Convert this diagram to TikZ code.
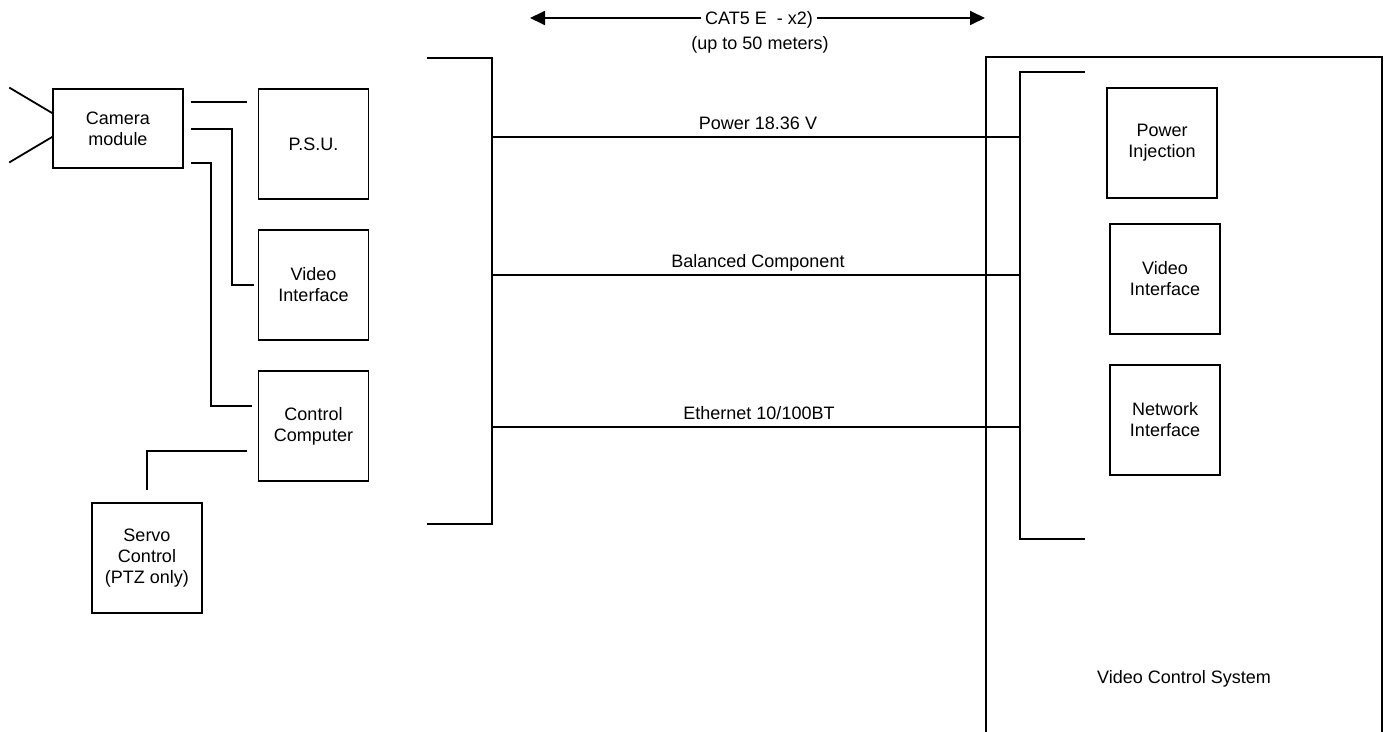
\documentclass[tikz,border=0pt]{standalone}
\usepackage{fontspec}
\setmainfont{Liberation Sans}
\usetikzlibrary{arrows.meta}
\begin{document}
\begin{tikzpicture}[x=1pt,y=-1pt,
  line width=1.8pt, line cap=rect,
  blk/.style={draw, line width=1.8pt, align=center, inner sep=2pt,
    font=\fontsize{18}{21}\selectfont},
  lbl/.style={font=\fontsize{18}{21}\selectfont, inner sep=3pt},
  tip/.style={-{Triangle[length=15pt,width=14pt]}}]
\useasboundingbox (0,0) rectangle (1387,731);
% left side blocks
\node[blk, minimum width=130pt, minimum height=79pt] (cam) at (118,128.5) {Camera\\module};
\node[blk, minimum width=110pt, minimum height=110pt] (psu) at (313.5,144) {P.S.U.};
\node[blk, minimum width=110pt, minimum height=110pt] (vil) at (313.5,285) {Video\\Interface};
\node[blk, minimum width=110pt, minimum height=110pt] (ctrl) at (313.5,426) {Control\\Computer};
\node[blk, minimum width=110pt, minimum height=110pt] (servo) at (147,558) {Servo\\Control\\(PTZ only)};
% lens
\coordinate (lensA) at (10,88);
\coordinate (lensB) at (10,162);
\draw (lensA) -- (cam.west|-0,113);
\draw (lensB) -- (cam.west|-0,137);
% camera connections
\draw[shorten <=8pt, shorten >=12pt] (cam.east|-0,102) -- (psu.west|-0,102);
\draw[shorten <=8pt, shorten >=5pt] (cam.east|-0,129) -- (232,129) |- (vil.west|-0,285);
\draw[shorten <=8pt, shorten >=7pt] (cam.east|-0,163) -- (211,163) |- (ctrl.west|-0,406);
\draw[shorten <=12pt, shorten >=13pt] (ctrl.west|-0,451) -| (servo.north);
% left bracket
\coordinate (lbT) at (428,58);
\coordinate (lbTc) at (492,58);
\coordinate (lbBc) at (492,524);
\coordinate (lbB) at (428,524);
\draw (lbT) -- (lbTc) -- (lbBc) -- (lbB);
% right system box
\coordinate (sysBL) at (986,735);
\coordinate (sysTL) at (986,57);
\coordinate (sysTR) at (1382,57);
\coordinate (sysBR) at (1382,735);
\draw (sysBL) -- (sysTL) -- (sysTR) -- (sysBR);
% right bracket
\coordinate (rbT) at (1084,72);
\coordinate (rbTc) at (1020,72);
\coordinate (rbBc) at (1020,539);
\coordinate (rbB) at (1084,539);
\draw (rbT) -- (rbTc) -- (rbBc) -- (rbB);
% cables
\draw (lbTc|-0,137) -- (rbTc|-0,137);
\draw (lbTc|-0,275) -- (rbTc|-0,275);
\draw (lbTc|-0,427) -- (rbTc|-0,427);
\node[lbl, anchor=base] (pw) at (758,129) {Power 18.36 V};
\node[lbl, anchor=base] (bc) at (758,267) {Balanced Component};
\node[lbl, anchor=base] (et) at (759,419) {Ethernet 10/100BT};
% right blocks
\node[blk, minimum width=110pt, minimum height=110pt] (pinj) at (1162,143) {Power\\Injection};
\node[blk, minimum width=110pt, minimum height=110pt] (vir) at (1165,279) {Video\\Interface};
\node[blk, minimum width=110pt, minimum height=110pt] (net) at (1165,420) {Network\\Interface};
\node[lbl] (vcs) at (1184,679) {Video Control System};
% top arrow
\node[lbl, anchor=base] (cat) at (759,24) {CAT5 E~ - x2)};
\node[lbl, anchor=base] (up) at (760,49) {(up to 50 meters)};
\coordinate (arL) at (530,18);
\coordinate (arR) at (985,18);
\draw[tip, line cap=butt] (cat.west|-arL) -- (arL);
\draw[tip, line cap=butt] (cat.east|-arR) -- (arR);
\end{tikzpicture}
\end{document}
